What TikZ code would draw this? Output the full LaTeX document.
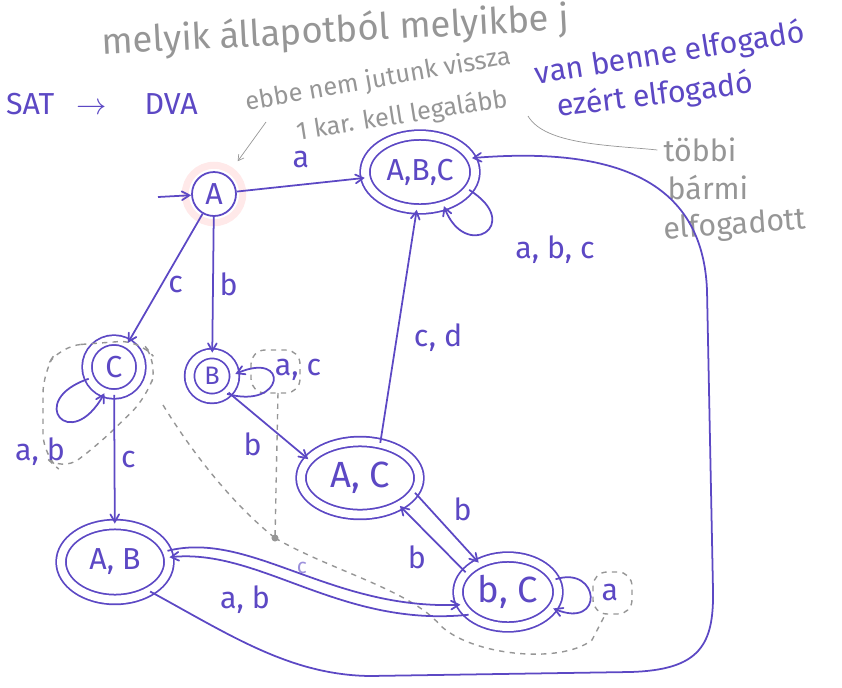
\documentclass[tikz,border=0pt]{standalone}
\usepackage{fontspec}
\setmainfont{Fira Sans}
\usepackage{xcolor}
\usepackage{tikz}
\usetikzlibrary{arrows}
\usetikzlibrary{positioning}
\usetikzlibrary{shapes.geometric}
\definecolor{tinta}{RGB}{92,72,196}
\definecolor{ceruzaszin}{RGB}{150,150,150}

\begin{document}
\begin{tikzpicture}[x=0.02cm, y=-0.02cm, >=angle 60, allapot/.style={circle, draw=tinta, line width=1pt, text=tinta, font=\LARGE, inner sep=0pt, minimum size=0.88cm}, elfogado/.style={ellipse, draw=tinta, line width=1pt, double, double distance=4.5pt, text=tinta, inner sep=0pt}, el/.style={->, tinta, line width=1pt}, cimke/.style={tinta, font=\LARGE}, ceruza/.style={ceruzaszin, font=\LARGE}, szaggatott/.style={ceruzaszin, thick, dashed}]
	\useasboundingbox (0,0) rectangle (842,687);
	\clip (0,0) rectangle (842,687);
	\node[ceruza, font=\huge, rotate=3, anchor=west] (melyik) at (96,44) {melyik állapotból melyikbe j};
	\node[cimke, anchor=west] (dva) at (0,104) {SAT\hspace{0.45cm}$\rightarrow$\hspace{0.75cm}DVA};
	\node[ceruza, font=\Large, rotate=10] (ebbe) at (378,80) {ebbe nem jutunk vissza};
	\node[ceruza, font=\Large, rotate=9] (kell) at (402,116) {1 kar. kell legalább};
	\node[cimke, rotate=9] (vanbenne) at (670,54) {van benne elfogadó};
	\node[cimke, rotate=7] (ezert) at (655,96) {ezért elfogadó};
	\node[ceruza] (tobbi) at (700,150) {többi};
	\node[ceruza] (barmi) at (708,188) {bármi};
	\node[ceruza, rotate=4] (elfogadott) at (735,226) {elfogadott};
	\node[circle, draw=pink!35, line width=4pt, minimum size=1.15cm] (Afeny) at (214,194) {};
	\node[allapot] (A) at (214,194) {A};
	\node[elfogado, minimum width=2.2cm, minimum height=1.48cm, font=\LARGE] (ABC) at (420,172) {A,B,C};
	\node[elfogado, minimum width=1.08cm, minimum height=1.08cm, font=\LARGE] (C) at (114,367) {C};
	\node[elfogado, minimum width=0.9cm, minimum height=0.9cm, font=\Large] (B) at (212,376) {B};
	\node[elfogado, minimum width=2.36cm, minimum height=1.46cm, font=\huge] (AC) at (360,478) {A, C};
	\node[elfogado, minimum width=2.16cm, minimum height=1.5cm, font=\LARGE] (AB) at (115,562) {A, B};
	\node[elfogado, minimum width=2.0cm, minimum height=1.4cm, font=\huge] (BC) at (508,592) {b, C};
	\coordinate (kezdo) at (158,197);
	\coordinate (nyil) at (266,122);
	\coordinate (vonal) at (528,116);
	\draw[ceruzaszin, ->, shorten >=10pt] (nyil) -- (A);
	\draw[ceruzaszin] (vonal) .. controls (545,145) and (610,145) .. (tobbi.west);
	\draw[szaggatott, rounded corners=12] (60,346) -- (140,340) -- (158,362) -- (147,397) -- (100,443) -- (62,472) -- (43,455) -- (43,372) -- cycle;
	\draw[szaggatott, rounded corners=8] (251,350) rectangle (300,393);
	\draw[szaggatott] (278,393) -- (275,538);
	\draw[szaggatott] (163,405) .. controls (200,465) and (240,510) .. (275,538);
	\fill[ceruzaszin] (275,538) circle[radius=2pt];
	\draw[szaggatott] (275,538) .. controls (330,570) and (410,590) .. (440,625) .. controls (470,655) and (560,665) .. (592,640) -- (605,615);
	\draw[szaggatott, rounded corners=8] (593,572) rectangle (632,614);
	\draw[el] (kezdo) -- (A);
	\draw[el] (A) -- node[above, cimke, yshift=6pt] (la) {a} (ABC);
	\draw[el] (A.240) -- node[pos=0.55, right, cimke] (lc1) {c} (C.60);
	\draw[el] (A) -- node[right, cimke] (lb1) {b} (B);
	\draw[el] (C) -- node[right, cimke] (lc2) {c} (AB);
	\draw[el] (B.-45) -- node[below left, cimke] (lb2) {b} (AC.160);
	\draw[el] (AC.60) -- node[pos=0.45, right, cimke, xshift=6pt] (lcd) {c, d} (ABC.-95);
	\draw[el] (AC.-15) -- node[above right, cimke] (lb3) {b} (BC.135);
	\draw[el] (BC.155) -- node[below left, cimke] (lb4) {b} (AC.-35);
	\draw[el] (ABC.-20) .. controls (525,225) and (465,262) .. (ABC.-55);
	\draw[el] (C.205) .. controls (25,400) and (70,455) .. (C.250);
	\draw[el] (B.-50) .. controls (285,410) and (290,350) .. (B.5);
	\draw[el] (BC.15) .. controls (600,565) and (605,630) .. (BC.-20);
	\draw[el] (AB.12) .. controls (250,530) and (330,610) .. (BC.195);
	\draw[el] (BC.210) .. controls (340,628) and (260,548) .. (AB.5);
	\draw[el] (AB.-40) .. controls (230,635) and (290,675) .. (370,676) -- (630,672) .. controls (700,670) and (714,645) .. (713,590) -- (707,290) .. controls (703,190) and (630,145) .. (ABC.15);
	\node[cimke] (labc) at (555,250) {a, b, c};
	\node[cimke] (lab1) at (40,452) {a, b};
	\node[cimke] (lac) at (298,370) {a, c};
	\node[cimke] (la2) at (610,592) {a};
	\node[cimke] (lab2) at (245,600) {a, b};
	\node[cimke, font=\large, opacity=0.6] (lc3) at (302,568) {c};
\end{tikzpicture}
\end{document}
